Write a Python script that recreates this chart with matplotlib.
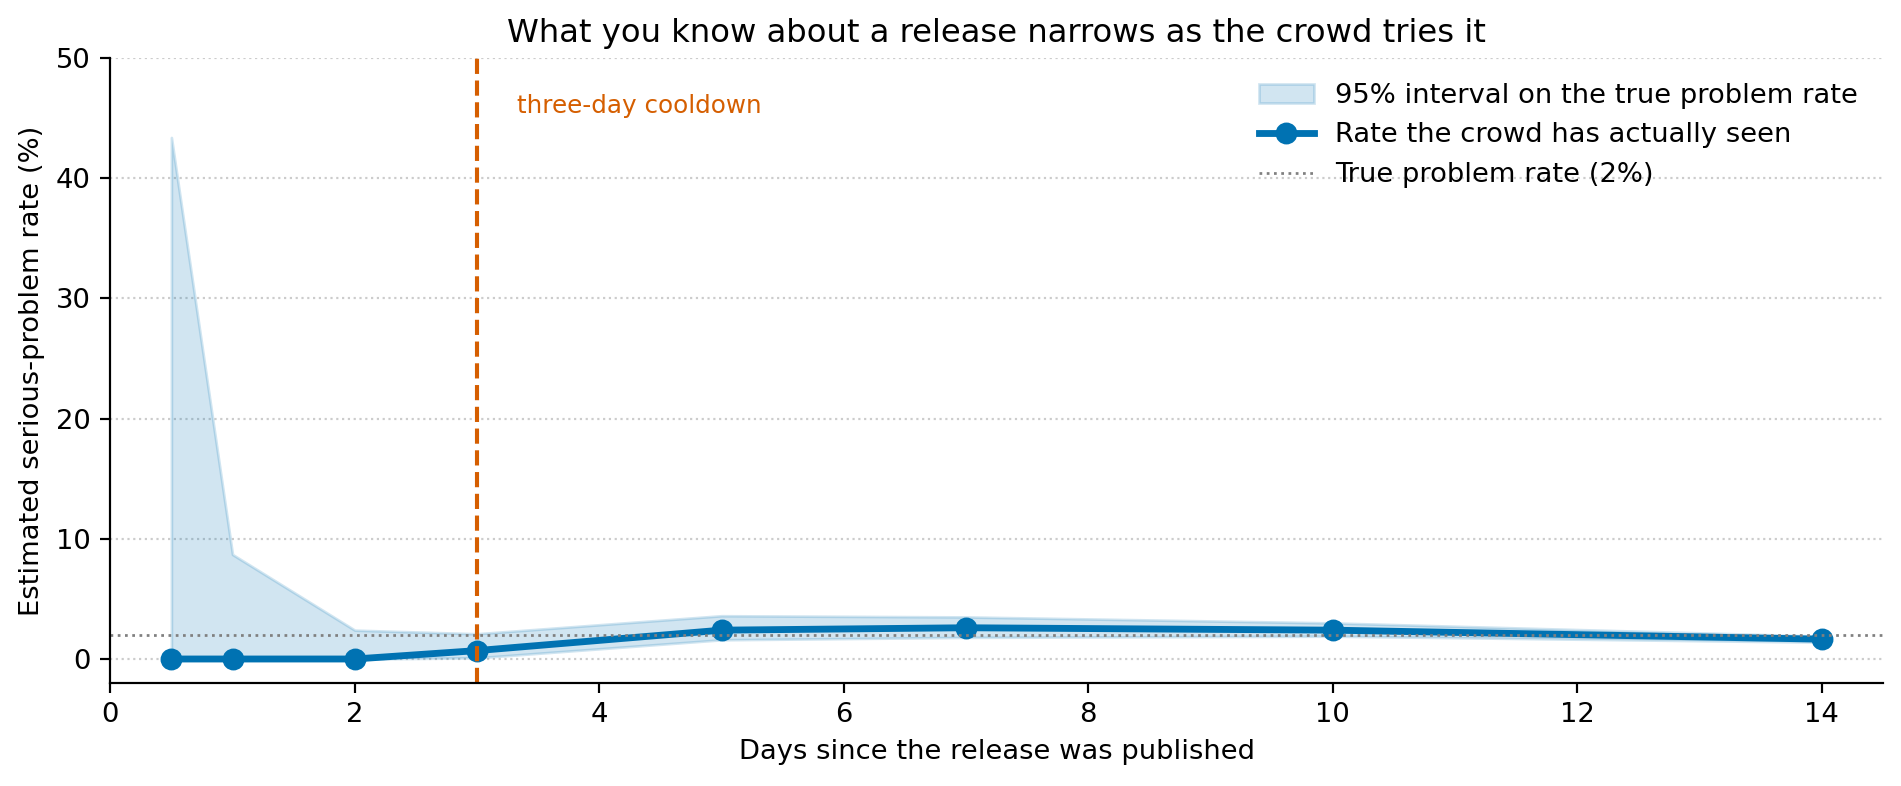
import matplotlib
matplotlib.use("Agg")
import matplotlib.pyplot as plt

days = [0.5, 1, 2, 3, 5, 7, 10, 14]
observed_rate = [0.0, 0.0, 0.0, 0.7, 2.4, 2.6, 2.4, 1.65]
upper_95 = [43.4, 8.7, 2.4, 2.1, 3.6, 3.5, 3.0, 1.9]
lower_95 = [0.0, 0.0, 0.0, 0.1, 1.6, 1.8, 1.9, 1.4]
true_rate = 2.0
cooldown_day = 3

blue = "#0072B2"
orange = "#D55E00"

DPI = 197
fig = plt.figure(figsize=(1901 / DPI, 786 / DPI), dpi=DPI)
ax = fig.add_axes([0.058, 0.131, 0.9325, 0.795])

ax.fill_between(days, lower_95, upper_95, color=blue, alpha=0.18,
                label="95% interval on the true problem rate")
ax.plot(days, observed_rate, color=blue, lw=2.5, marker="o", markersize=7,
        label="Rate the crowd has actually seen")
ax.axhline(true_rate, color="gray", lw=1, ls=":", label="True problem rate (2%)")
ax.axvline(cooldown_day, color=orange, lw=1.5, ls="--")
ax.text(cooldown_day + 0.33, 46, "three-day cooldown", color=orange,
        fontsize=9, va="center", ha="left")

ax.set_xlim(0, 14.5)
ax.set_ylim(-2, 50)
ax.set_xticks([0, 2, 4, 6, 8, 10, 12, 14])
ax.set_yticks([0, 10, 20, 30, 40, 50])
ax.grid(axis="y", color="#cccccc", ls=":", lw=0.8)
ax.set_axisbelow(True)
for s in ["top", "right"]:
    ax.spines[s].set_visible(False)

ax.set_xlabel("Days since the release was published")
ax.set_ylabel("Estimated serious-problem rate (%)")
ax.set_title("What you know about a release narrows as the crowd tries it", fontsize=11.8)
ax.legend(loc="upper right", frameon=False)

fig.savefig("out.png", dpi=DPI)
